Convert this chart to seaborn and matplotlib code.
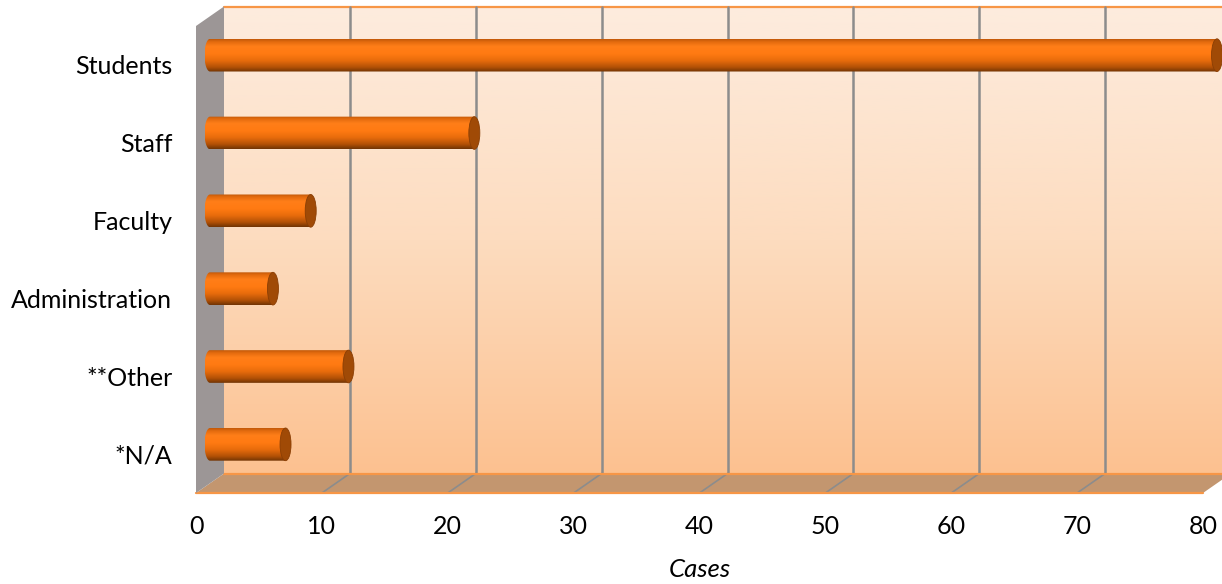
import numpy as np
import pandas as pd
import matplotlib
matplotlib.use("Agg")
import matplotlib.pyplot as plt
import seaborn as sns
from matplotlib.colors import LinearSegmentedColormap
from matplotlib.patches import Polygon, Ellipse, Rectangle
from matplotlib.transforms import ScaledTranslation, IdentityTransform

# ---- data ----
categories = ["Students", "Staff", "Faculty", "Administration", "**Other", "*N/A"]
cases = [80, 21, 8, 5, 11, 6]
x_ticks = [0, 10, 20, 30, 40, 50, 60, 70, 80]
x_label = "Cases"

df = pd.DataFrame({"group": categories, "cases": cases})

sns.set_theme(style="white")
plt.rcParams["font.family"] = ["Lato", "DejaVu Sans"]

W, H, DPI = 1222, 584, 100
fig = plt.figure(figsize=(W / DPI, H / DPI), dpi=DPI)

# front plane of the 3-D box (pixels)
left, right, top, bottom = 196, 1203, 26, 493
ax = fig.add_axes([left / W, 1 - bottom / H, (right - left) / W, (bottom - top) / H])
ax.set_facecolor("none")

# box depth: the back wall sits right of and above the front plane
DX, DY = 28, 19.5
back = ax.transData + ScaledTranslation(DX / DPI, DY / DPI, fig.dpi_scale_trans)
mid = ax.transData + ScaledTranslation(DX / 2 / DPI, DY / 2 / DPI, fig.dpi_scale_trans)

sns.barplot(data=df, x="cases", y="group", orient="h", width=0.42, ax=ax,
            color="#FF7A10", saturation=1)
bars = [p for p in ax.patches if isinstance(p, Rectangle)]

xmin, xmax = x_ticks[0], x_ticks[-1]
ymin, ymax = -0.5, len(categories) - 0.5
ax.set_xlim(xmin, xmax)
ax.set_ylim(ymax, ymin)


def px(x, y, depth=0.0):
    X, Y = ax.transData.transform((x, y))
    return (X + DX * depth, Y + DY * depth)


ident = IdentityTransform()
grad = np.linspace(0, 1, 256).reshape(-1, 1)

# back wall with vertical gradient
wall_cmap = LinearSegmentedColormap.from_list(
    "wall", ["#FDECDE", "#FDDCBF", "#FCC190"])
wall = ax.imshow(grad, cmap=wall_cmap, extent=(xmin, xmax, ymax, ymin),
                 origin="upper", aspect="auto", zorder=0, interpolation="bilinear")
wall.set_transform(back)
wall.set_clip_box(fig.bbox)
ax.plot([xmin, xmax], [ymin, ymin], transform=back, color="#F79646",
        lw=1.6, clip_on=False, zorder=1)

# gridlines on the back wall and their continuation across the floor
for t in x_ticks[1:-1]:
    ax.plot([t, t], [ymin, ymax], transform=back, color="#8C8C8C",
            lw=1.8, clip_on=False, zorder=1)

# floor
floor = Polygon([px(xmin, ymax, 0), px(xmax, ymax, 0), px(xmax, ymax, 1), px(xmin, ymax, 1)],
                closed=True, transform=ident, fc="#C3966F", ec="none",
                clip_on=False, zorder=1.2)
ax.add_patch(floor)
for t in x_ticks[1:-1]:
    a, b = px(t, ymax, 1), px(t, ymax, 0)
    ax.plot([a[0], b[0]], [a[1], b[1]], transform=ident, color="#8C8C8C",
            lw=1.2, clip_on=False, zorder=1.3)
for d in (0, 1):
    a, b = px(xmin, ymax, d), px(xmax, ymax, d)
    ax.plot([a[0], b[0]], [a[1], b[1]], transform=ident, color="#F79646",
            lw=1.6, clip_on=False, zorder=1.4)

# left side wall
side = Polygon([px(xmin, ymin, 0), px(xmin, ymax, 0), px(xmin, ymax, 1), px(xmin, ymin, 1)],
               closed=True, transform=ident, fc="#9C9696", ec="none",
               clip_on=False, zorder=1.5)
ax.add_patch(side)

# cylinders built on top of the seaborn bars
body_cmap = LinearSegmentedColormap.from_list(
    "body", [(0.0, "#C05808"), (0.08, "#E26A0E"), (0.22, "#FF7E18"),
             (0.45, "#FF7A12"), (0.65, "#E86C0C"), (0.85, "#B45206"),
             (1.0, "#703404")])
unit = ax.transData.transform((1, 0))[0] - ax.transData.transform((0, 0))[0]
rx = 5.5 / unit
for bar in bars:
    x0, y0, w, h = bar.get_x(), bar.get_y(), bar.get_width(), bar.get_height()
    bar.set_visible(False)
    yc = y0 + h / 2
    t = np.linspace(np.pi / 2, 3 * np.pi / 2, 40)
    arc = np.column_stack([x0 + rx * np.cos(t), yc + (h / 2) * np.sin(t)])
    verts = np.vstack([[[x0 + w, y0], [x0 + w, y0 + h]], arc])
    shape = Polygon(verts, closed=True, transform=mid, fc="none", ec="none",
                    clip_on=False, zorder=3)
    ax.add_patch(shape)
    im = ax.imshow(grad, cmap=body_cmap, extent=(x0 - rx, x0 + w, y0 + h, y0),
                   origin="upper", aspect="auto", zorder=3, interpolation="bilinear")
    im.set_transform(mid)
    im.set_clip_path(shape)
    im.set_clip_box(fig.bbox)
    cap = Ellipse((x0 + w, yc), 2 * rx, h, transform=mid, fc="#A04A06",
                  ec="#8A3E04", lw=0.6, clip_on=False, zorder=4)
    ax.add_patch(cap)

ax.set_xlim(xmin, xmax)
ax.set_ylim(ymax, ymin)
ax.set_xticks(x_ticks)
ax.set_xticklabels([str(v) for v in x_ticks])
ax.set_ylabel("")
ax.set_xlabel(x_label, fontsize=18.5, style="italic", labelpad=14, color="black")
ax.tick_params(axis="both", length=0, labelsize=18, labelcolor="black")
ax.tick_params(axis="y", pad=17)
ax.tick_params(axis="x", pad=16)
for s in ax.spines.values():
    s.set_visible(False)

fig.savefig("out.png", dpi=DPI, facecolor="white")
